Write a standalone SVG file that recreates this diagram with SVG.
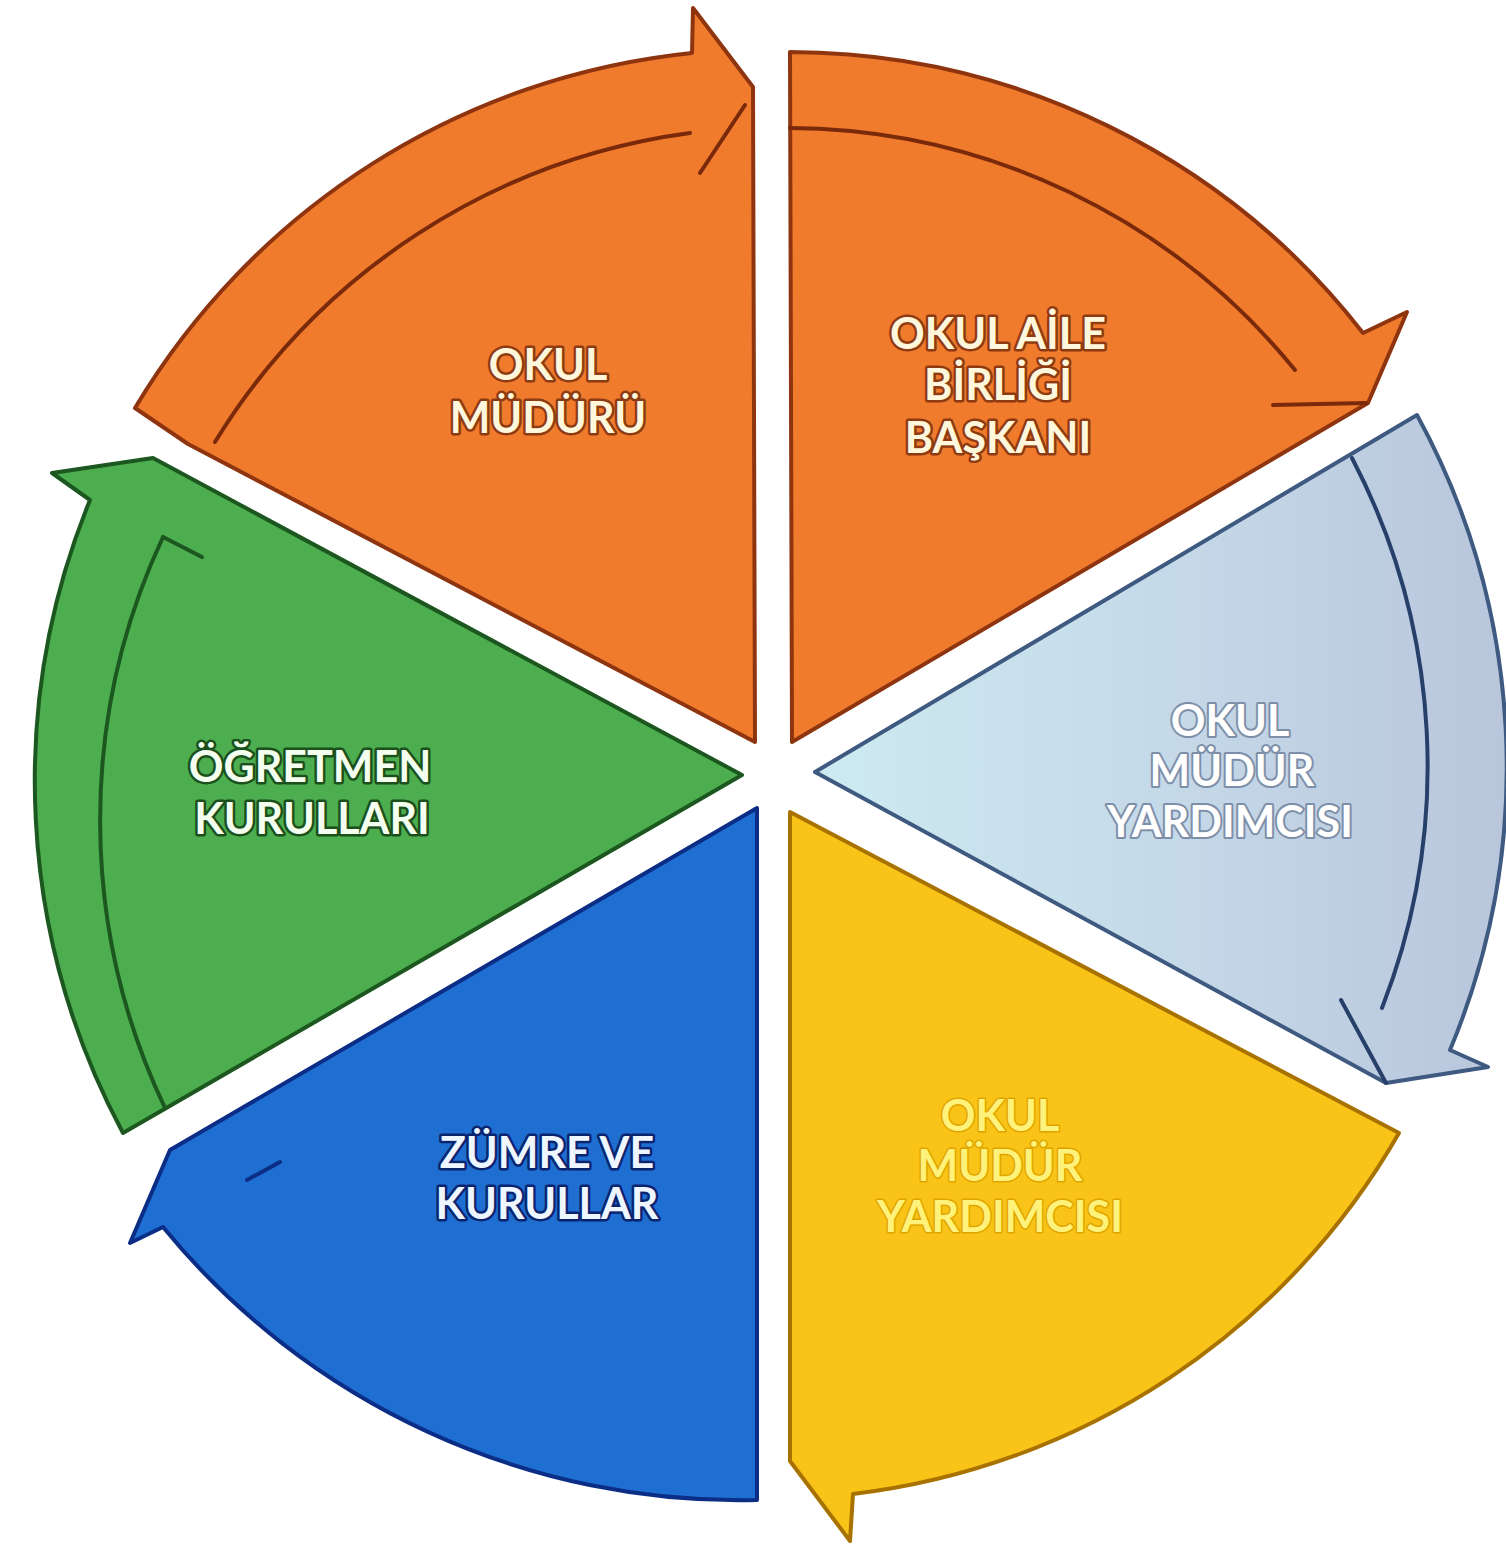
<svg xmlns="http://www.w3.org/2000/svg" width="1506" height="1554" viewBox="0 0 1506 1554">
<defs>
<linearGradient id="gGray" x1="815" y1="0" x2="1500" y2="0" gradientUnits="userSpaceOnUse">
<stop offset="0" stop-color="#cdeaf1"/>
<stop offset="0.55" stop-color="#c4d8e8"/>
<stop offset="1" stop-color="#b9c6dc"/>
</linearGradient>
<style>
.seg{stroke-width:4;stroke-linejoin:round}
.or{fill:#f07b2c;stroke:#8e3510}
.gr{fill:url(#gGray);stroke:#3f5a80}
.ye{fill:#f9c417;stroke:#a87200}
.bl{fill:#1f6fd2;stroke:#0b2d86}
.gn{fill:#4cae4f;stroke:#1c571f}
.ln{fill:none;stroke-width:4;stroke-linecap:round}
.lo{stroke:#7a2a0a}
.lg{stroke:#27406a}
.lb{stroke:#0b2d86}
.lgn{stroke:#1c571f}
.t{font-family:Lato,"Liberation Sans",Arial,sans-serif;font-weight:bold;font-size:43px;text-anchor:middle;paint-order:stroke;stroke-linejoin:round}
.to{fill:#fff7dc;stroke:#8e3a12;stroke-width:5}
.tg{fill:#ffffff;stroke:#7d8ea8;stroke-width:4}
.ty{fill:#fff27a;stroke:#e0a400;stroke-width:3}
.tb{fill:#eef6ff;stroke:#0a2470;stroke-width:5}
.tgn{fill:#f4fff0;stroke:#1b4f1c;stroke-width:5}
</style>
</defs>
<rect width="1506" height="1554" fill="#ffffff"/>

<g id="okul-muduru">
<path class="seg or" d="M755,742 L188,444 L135,408 A735 735 0 0 1 692,53 L693,8 L753,87 L755,742 Z"/>
<text class="t to" x="548" y="380">OKUL</text>
<text class="t to" x="548" y="433">MÜDÜRÜ</text>
</g>

<g id="okul-aile-birligi-baskani">
<path class="seg or" d="M792,742 L790,52 A728 728 0 0 1 1363,333 L1407,312 L1368,403 Z"/>
<text class="t to" x="998" y="349">OKUL AİLE</text>
<text class="t to" x="998" y="400">BİRLİĞİ</text>
<text class="t to" x="998" y="453">BAŞKANI</text>
</g>

<g id="okul-mudur-yardimcisi-1">
<path class="seg gr" d="M815,772 L1417,415 A735 735 0 0 1 1450,1050 L1488,1067 L1386,1083 Z"/>
<text class="t tg" x="1230" y="736">OKUL</text>
<text class="t tg" x="1232" y="786">MÜDÜR</text>
<text class="t tg" x="1230" y="837">YARDIMCISI</text>
</g>

<g id="okul-mudur-yardimcisi-2">
<path class="seg ye" d="M790,812 L1399,1133 A728 728 0 0 1 853,1494 L850,1541 L790,1461 Z"/>
<text class="t ty" x="1000" y="1131">OKUL</text>
<text class="t ty" x="1000" y="1181">MÜDÜR</text>
<text class="t ty" x="1000" y="1232">YARDIMCISI</text>
</g>

<g id="zumre-ve-kurullar">
<path class="seg bl" d="M757,808 L757,1500 A745 745 0 0 1 163,1227 L130,1243 L170,1150 Z"/>
<text class="t tb" x="547" y="1168">ZÜMRE VE</text>
<text class="t tb" x="547" y="1219">KURULLAR</text>
</g>

<g id="ogretmen-kurullari">
<path class="seg gn" d="M742,775 L123,1133 A745 745 0 0 1 90,500 L52,473 L153,458 Z"/>
<text class="t tgn" x="310" y="782">ÖĞRETMEN</text>
<text class="t tgn" x="312" y="834">KURULLARI</text>
</g>

<g id="connectors">
<path class="ln lo" d="M215,442 A660 660 0 0 1 690,133"/>
<path class="ln lo" d="M700,173 L745,105"/>
<path class="ln lo" d="M790,128 A655 655 0 0 1 1295,370"/>
<path class="ln lo" d="M1273,405 L1366,403"/>
<path class="ln lg" d="M1352,458 A665 665 0 0 1 1382,1008"/>
<path class="ln lg" d="M1341,1000 L1386,1083"/>
<path class="ln lb" d="M247,1180 L280,1162"/>
<path class="ln lgn" d="M165,1108 A670 670 0 0 1 163,537"/>
<path class="ln lgn" d="M163,537 L202,557"/>
</g>
</svg>
